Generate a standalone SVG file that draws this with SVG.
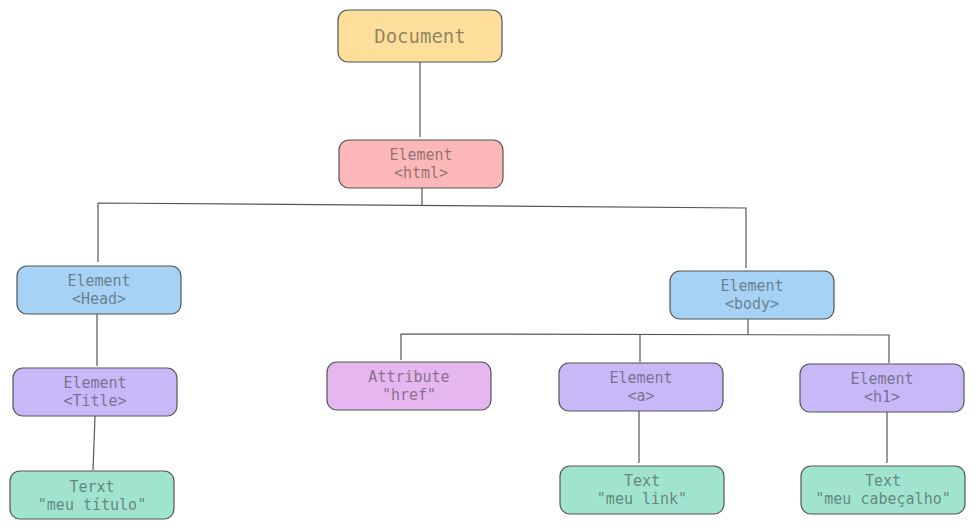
<svg xmlns="http://www.w3.org/2000/svg" width="975" height="529" viewBox="0 0 975 529">
  <style>
    .box { stroke: #555; stroke-width: 1.2; }
    .lbl { font-family: "DejaVu Sans Mono", "Liberation Mono", monospace; font-size: 15px; fill: #333; fill-opacity: 0.55; text-anchor: middle; }
    .title { font-size: 19px; }
    .wire { fill: none; stroke: #555; stroke-width: 1.2; }
    .doc { fill: #fddf9b; }
    .html { fill: #fcb8b8; }
    .blue { fill: #a6d3f5; }
    .violet { fill: #c8b8f8; }
    .pink { fill: #e5b6ef; }
    .green { fill: #a0e4d0; }
  </style>
  <rect width="975" height="529" fill="#fff"/>

  <!-- connectors -->
  <g id="connectors">
    <path class="wire" d="M420 62 V137"/>
    <path class="wire" d="M422 188 V205"/>
    <path class="wire" d="M98 262 V203 L746 208 V268"/>
    <path class="wire" d="M97 314 V366"/>
    <path class="wire" d="M95 416 L93 470"/>
    <path class="wire" d="M748 319 V335"/>
    <path class="wire" d="M401 360 V334 L889 335 V363"/>
    <path class="wire" d="M640 334 V362"/>
    <path class="wire" d="M639 411 V463"/>
    <path class="wire" d="M887 412 V463"/>
  </g>

  <g id="document">
    <rect class="box doc" x="338" y="10" width="164" height="52" rx="10"/>
    <text class="lbl title" x="420" y="43">Document</text>
  </g>

  <g id="html">
    <rect class="box html" x="339" y="140" width="164" height="48" rx="10"/>
    <text class="lbl" x="421" y="160">Element</text>
    <text class="lbl" x="421" y="178">&lt;html&gt;</text>
  </g>

  <g id="head">
    <rect class="box blue" x="17" y="266" width="164" height="48" rx="10"/>
    <text class="lbl" x="99" y="286">Element</text>
    <text class="lbl" x="99" y="304">&lt;Head&gt;</text>
  </g>

  <g id="title">
    <rect class="box violet" x="13" y="368" width="164" height="48" rx="10"/>
    <text class="lbl" x="95" y="388">Element</text>
    <text class="lbl" x="95" y="406">&lt;Title&gt;</text>
  </g>

  <g id="title-text">
    <rect class="box green" x="10" y="471" width="164" height="48" rx="10"/>
    <text class="lbl" x="92" y="492">Terxt</text>
    <text class="lbl" x="92" y="510">"meu título"</text>
  </g>

  <g id="body">
    <rect class="box blue" x="670" y="271" width="164" height="48" rx="10"/>
    <text class="lbl" x="752" y="291">Element</text>
    <text class="lbl" x="752" y="309">&lt;body&gt;</text>
  </g>

  <g id="href">
    <rect class="box pink" x="327" y="362" width="164" height="48" rx="10"/>
    <text class="lbl" x="409" y="382">Attribute</text>
    <text class="lbl" x="409" y="400">"href"</text>
  </g>

  <g id="anchor">
    <rect class="box violet" x="559" y="363" width="164" height="48" rx="10"/>
    <text class="lbl" x="641" y="383">Element</text>
    <text class="lbl" x="641" y="401">&lt;a&gt;</text>
  </g>

  <g id="h1">
    <rect class="box violet" x="800" y="364" width="164" height="48" rx="10"/>
    <text class="lbl" x="882" y="384">Element</text>
    <text class="lbl" x="882" y="402">&lt;h1&gt;</text>
  </g>

  <g id="link-text">
    <rect class="box green" x="560" y="466" width="164" height="48" rx="10"/>
    <text class="lbl" x="642" y="486">Text</text>
    <text class="lbl" x="642" y="504">"meu link"</text>
  </g>

  <g id="h1-text">
    <rect class="box green" x="801" y="466" width="164" height="48" rx="10"/>
    <text class="lbl" x="883" y="486">Text</text>
    <text class="lbl" x="883" y="504">"meu cabeçalho"</text>
  </g>
</svg>
